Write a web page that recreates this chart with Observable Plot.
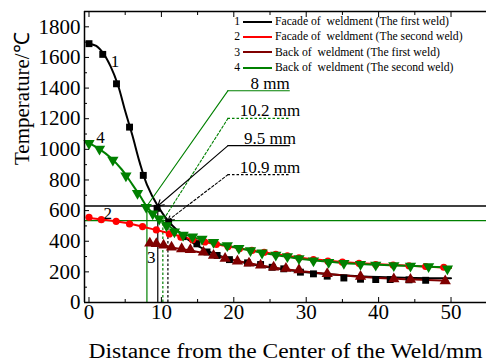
<!DOCTYPE html>
<html>
<head>
<meta charset="utf-8">
<script src="https://cdn.jsdelivr.net/npm/d3@7"></script>
<script src="https://cdn.jsdelivr.net/npm/@observablehq/plot@0.6"></script>
<style>
  html, body { margin: 0; padding: 0; background: #fff; }
  #wrap { position: relative; width: 486px; height: 362px; font-family: "Liberation Serif", "DejaVu Serif", serif; }
  #legend { position: absolute; left: 231px; top: 14px; font-family: "Liberation Serif", "DejaVu Serif", serif; font-size: 11.7px; line-height: 15.4px; white-space: pre; }
  .row { display: flex; align-items: center; height: 15.4px; }
  .num { width: 9px; text-align: right; }
  .sw { width: 29px; height: 2px; margin: 0 3px 0 3px; }
</style>
</head>
<body>
<div id="wrap"><div id="legend"></div></div>
<script>
// ---- data ----
const seriesNames = [
  "Facade of  weldment (The first weld)",
  "Facade of  weldment (The second weld)",
  "Back of  weldment (The first weld)",
  "Back of  weldment (The second weld)"
];
const seriesColors = ["#000000", "#ff0000", "#800000", "#008000"];

// series 1: facade, first weld (black squares)
const s1X = [0, 1.9, 3.8, 5.6, 7.5, 9.4, 11.0, 13.0, 14.9, 16.3, 17.7, 19.4, 21.9, 23.7, 25.3, 26.9, 29.2, 31.0, 32.9, 35.2, 37.5, 39.6, 41.6, 44.2, 46.5];
const s1T = [1690, 1620, 1428, 1145, 830, 615, 525, 430, 383, 330, 307, 280, 259, 248, 230, 220, 198, 187, 172, 160, 152, 150, 150, 148, 145];
const s1FitX = [0, 1, 2, 3, 4, 5, 6, 7, 8, 9.5, 10.9, 12, 14, 16, 18, 20, 23, 26, 30, 35, 40, 45, 50];
const s1FitT = [1690, 1675, 1625, 1540, 1420, 1250, 1090, 915, 770, 630, 535, 480, 400, 345, 305, 275, 245, 222, 198, 178, 166, 160, 158];

// series 2: facade, second weld (red circles)
const s2X = [0, 1.7, 3.75, 5.6, 7.4, 9.3, 11.1, 12.7, 14.3, 16.0, 17.6, 19.2, 20.8, 22.5, 24.2, 25.8, 27.4, 29.0, 31.0, 33.0, 35.0, 37.3, 39.6, 42.0, 44.2, 46.5, 49.0];
const s2T = [556, 541, 530, 513, 496, 474, 448, 426, 410, 395, 380, 365, 352, 340, 328, 315, 305, 292, 280, 270, 263, 256, 248, 245, 240, 235, 230];
const s2FitX = [0, 5, 10, 15, 20, 25, 30, 35, 40, 45, 50];
const s2FitT = [552, 520, 465, 405, 360, 322, 287, 265, 250, 238, 226];

// series 3: back, first weld (brown up-triangles)
const s3X = [8.4, 9.3, 10.3, 11.4, 12.8, 14.0, 15.8, 17.2, 18.8, 20.5, 22.1, 23.7, 25.5, 27.2, 29.0, 32.9, 37.5, 42.1, 44.4, 49.2];
const s3T = [387, 383, 374, 361, 350, 344, 328, 307, 287, 269, 256, 243, 230, 222, 213, 188, 170, 153, 150, 140];
const s3FitX = [8.4, 10, 12, 14, 16, 18, 20, 22, 25, 28, 31, 35, 40, 45, 49.5];
const s3FitT = [385, 375, 355, 340, 322, 300, 278, 258, 232, 212, 196, 178, 160, 150, 142];

// series 4: back, second weld (green down-triangles)
const s4X = [0, 1.45, 3.3, 5.1, 6.7, 7.9, 8.8, 9.7, 10.7, 11.8, 13.0, 14.3, 15.6, 17.2, 19.1, 20.7, 22.3, 23.9, 25.8, 27.4, 29.0, 31.0, 33.1, 35.2, 37.5, 39.6, 42.1, 44.4, 46.9, 49.5];
const s4T = [1039, 1002, 931, 828, 713, 622, 580, 546, 502, 462, 440, 430, 415, 393, 372, 354, 339, 324, 310, 300, 287, 272, 263, 256, 250, 245, 241, 238, 235, 220];
const s4FitX = [0, 1.5, 3, 4.5, 6, 7, 8, 9, 10, 11, 12, 14, 16, 18, 20, 23, 26, 30, 35, 40, 45, 50];
const s4FitT = [1040, 1000, 945, 870, 770, 700, 625, 575, 535, 500, 470, 432, 405, 382, 362, 333, 308, 280, 258, 246, 238, 228];

// reference levels and annotated distances
const levelT = [630, 535];
const levelColors = ["#000000", "#008000"];
const annotDist = [8, 10.2, 9.5, 10.9];
const annotLevel = [630, 535, 630, 535];
const annotLabels = ["8 mm", "10.2 mm", "9.5 mm", "10.9 mm"];
const annotColors = ["#008000", "#008000", "#000000", "#000000"];
const annotDashed = [false, true, false, true];
const annotArrow = [false, false, true, true];
const annotLabelT = [1383, 1202, 1024, 835];

// curve number labels
const numLabels = ["1", "2", "3", "4"];
const numX = [3.6, 2.6, 8.6, 1.6];
const numT = [1572, 583, 296, 1078];

// ticks
const xTicks = [0, 10, 20, 30, 40, 50];
const xMinor = [5, 15, 25, 35, 45];
const yTicks = [0, 200, 400, 600, 800, 1000, 1200, 1400, 1600, 1800];
const yMinor = [100, 300, 500, 700, 900, 1100, 1300, 1500, 1700];

// ---- build ----
const zip = (xs, ys) => xs.map((x, i) => ({x, y: ys[i]}));
const pts = [zip(s1X, s1T), zip(s2X, s2T), zip(s3X, s3T), zip(s4X, s4T)];
const fits = [zip(s1FitX, s1FitT), zip(s2FitX, s2FitT), zip(s3FitX, s3FitT), zip(s4FitX, s4FitT)];
const annots = annotDist.map((d, i) => ({d, level: annotLevel[i], label: annotLabels[i], color: annotColors[i], dashed: annotDashed[i], arrow: annotArrow[i], ly: annotLabelT[i]}));
const nums = numLabels.map((t, i) => ({t, x: numX[i], y: numT[i]}));

const triDown = {
  draw(ctx, size) {
    const y = -Math.sqrt(size / (Math.sqrt(3) * 3));
    ctx.moveTo(0, -2 * y);
    ctx.lineTo(-Math.sqrt(3) * y, y);
    ctx.lineTo(Math.sqrt(3) * y, y);
    ctx.closePath();
  }
};

const cornerX = 19.2, endX = 27.8, labelX = 25;
const font = "Liberation Serif";
const T = {fontFamily: font, fill: "#000"};

const marks = [];
levelT.forEach((t, i) => marks.push(Plot.ruleY([t], {stroke: levelColors[i], strokeWidth: 1.3})));
annots.forEach(a => {
  marks.push(Plot.ruleX([a.d], {y1: 0, y2: a.level, stroke: a.color, strokeWidth: 1.2, strokeDasharray: a.dashed ? "2.5,2" : null}));
});
fits.forEach((f, i) => marks.push(Plot.line(f, {x: "x", y: "y", stroke: seriesColors[i], strokeWidth: 2, curve: "catmull-rom"})));
marks.push(Plot.dot(pts[0], {x: "x", y: "y", symbol: "square", r: 3.9, fill: seriesColors[0]}));
marks.push(Plot.dot(pts[1], {x: "x", y: "y", symbol: "circle", r: 3.6, fill: seriesColors[1]}));
marks.push(Plot.dot(pts[2], {x: "x", y: "y", symbol: "triangle", r: 4.2, fill: seriesColors[2]}));
marks.push(Plot.dot(pts[3], {x: "x", y: "y", symbol: triDown, r: 4.2, fill: seriesColors[3]}));
annots.forEach(a => {
  const dash = a.dashed ? "2.5,2" : null;
  marks.push(Plot.arrow([a], {x1: () => cornerX, y1: "ly", x2: "d", y2: "level", stroke: a.color, strokeWidth: 1.1, strokeDasharray: dash, headLength: a.arrow ? 9 : 0, bend: false}));
  marks.push(Plot.ruleY([a], {y: "ly", x1: () => cornerX, x2: () => endX, stroke: a.color, strokeWidth: 1.1, strokeDasharray: dash}));
  marks.push(Plot.text([a], {x: () => labelX, y: "ly", text: "label", fontSize: 17, lineAnchor: "bottom", dy: -2, ...T}));
});
marks.push(Plot.text(nums, {x: "x", y: "y", text: "t", fontSize: 17, ...T}));
marks.push(Plot.ruleY([1900], {stroke: "#000", strokeWidth: 1.5}));
marks.push(Plot.ruleY([0], {stroke: "#000", strokeWidth: 1.5}));
marks.push(Plot.ruleX([-0.62], {stroke: "#000", strokeWidth: 1.5}));
// tick lines (inward)
marks.push(Plot.axisX(xTicks, {anchor: "bottom", tickSize: -5, tickFormat: () => "", label: null}));
marks.push(Plot.axisX(xMinor, {anchor: "bottom", tickSize: -3, tickFormat: () => "", label: null}));
marks.push(Plot.axisX(xTicks, {anchor: "top", tickSize: -5, tickFormat: () => "", label: null}));
marks.push(Plot.axisX(xMinor, {anchor: "top", tickSize: -3, tickFormat: () => "", label: null}));
marks.push(Plot.axisY(yTicks, {anchor: "left", tickSize: -5, tickFormat: () => "", label: null}));
marks.push(Plot.axisY(yMinor, {anchor: "left", tickSize: -3, tickFormat: () => "", label: null}));
// tick labels
marks.push(Plot.text(xTicks, {x: d => d, text: d => String(d), frameAnchor: "bottom", lineAnchor: "top", dy: 2, fontSize: 21, ...T}));
marks.push(Plot.text(yTicks, {y: d => d, text: d => String(d), frameAnchor: "left", textAnchor: "end", dx: -4, fontSize: 21, ...T}));
// titles
marks.push(Plot.text(["Distance from the Center of the Weld/mm"], {frameAnchor: "bottom", dy: 55, fontSize: 20, ...T}));
marks.push(Plot.text(["Temperature/℃"], {frameAnchor: "left", dx: -62, dy: 8, rotate: -90, fontSize: 21, ...T}));

const chart = Plot.plot({
  width: 486,
  height: 362,
  marginLeft: 84,
  marginRight: 0,
  marginTop: 11,
  marginBottom: 60,
  x: {domain: [-0.62, 54.9], axis: null},
  y: {domain: [0, 1900], axis: null},
  style: {background: "#fff", overflow: "visible"},
  marks
});
const wrap = document.getElementById("wrap");
chart.style.position = "absolute";
chart.style.left = "0";
chart.style.top = "0";
wrap.insertBefore(chart, wrap.firstChild);

chart.querySelectorAll("text").forEach(t => {
  if (t.textContent === "Distance from the Center of the Weld/mm") {
    t.setAttribute("textLength", "394");
    t.setAttribute("lengthAdjust", "spacingAndGlyphs");
  }
});

const legend = document.getElementById("legend");
seriesNames.forEach((name, i) => {
  const row = document.createElement("div");
  row.className = "row";
  row.innerHTML = `<span class="num">${i + 1}</span><span class="sw" style="background:${seriesColors[i]}"></span><span>${name}</span>`;
  legend.appendChild(row);
});
</script>
</body>
</html>
